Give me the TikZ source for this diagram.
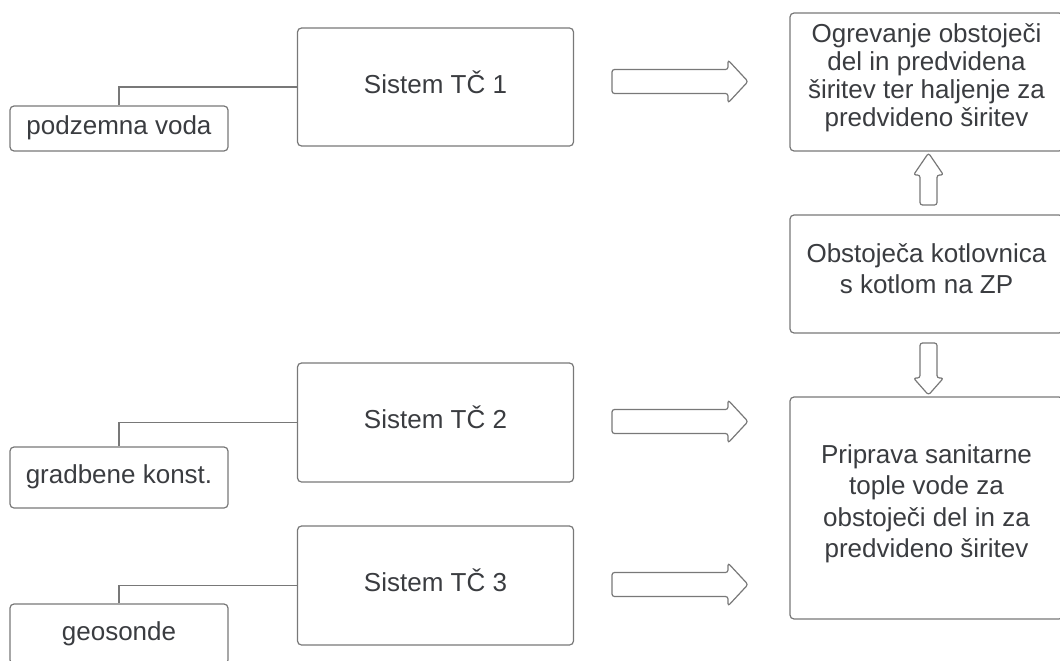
\documentclass[tikz,border=0pt]{standalone}
\usepackage{fontspec}
\setmainfont{Liberation Sans}
\usetikzlibrary{calc}
\definecolor{lc}{RGB}{120,120,120}
\definecolor{tc}{RGB}{58,60,64}
\newcommand\harrowat[1]{\draw[barrow] (#1) ++(0,-12.5) -- ++(116,0) -- ++(0,-9.5) -- ++(20,21.5) -- ++(-20,21.5) -- ++(0,-9.5) -- ++(-116,0) -- cycle;}
\begin{document}
\begin{tikzpicture}[x=1pt,y=-1pt,
  box/.style={draw=lc, line width=1.2pt, rounded corners=4pt, inner sep=0pt},
  txt/.style={text=tc, align=center, inner sep=0pt, font=\fontsize{26}{31.5}\selectfont},
  conn/.style={draw=lc, line width=1.2pt},
  barrow/.style={draw=lc, line width=1.2pt, rounded corners=2.5pt, line join=round}]
\useasboundingbox (0,0) rectangle (1060,661);

% heat pump systems
\node[box, minimum width=276pt, minimum height=118pt] (s1) at (435.5,87) {};
\node[box, minimum width=276pt, minimum height=119pt] (s2) at (435.5,422.5) {};
\node[box, minimum width=276pt, minimum height=119pt] (s3) at (435.5,585.5) {};
\node[txt] (s1t) at ($(s1)+(0,-5)$) {Sistem TČ 1};
\node[txt] (s2t) at ($(s2)+(0,-5)$) {Sistem TČ 2};
\node[txt] (s3t) at ($(s3)+(0,-5)$) {Sistem TČ 3};

% sources
\node[box, minimum width=218pt, minimum height=45pt] (pv) at (119,128.5) {};
\node[box, minimum width=218pt, minimum height=61pt] (gk) at (119,477.5) {};
\node[box, minimum width=218pt, minimum height=60pt] (gs) at (119,634) {};
\node[txt] (pvt) at ($(pv)+(0,-0.5)$) {podzemna voda};
\node[txt] (gkt) at ($(gk)+(0,-0.5)$) {gradbene konst.};
\node[txt] (gst) at ($(gs)+(0,0)$) {geosonde};

% right column
\node[box, minimum width=273pt, minimum height=138pt] (r1) at (926.5,82) {};
\node[box, minimum width=273pt, minimum height=118pt] (r2) at (926.5,274) {};
\node[box, minimum width=273pt, minimum height=222pt] (r3) at (926.5,508) {};
\node[txt, font=\fontsize{26}{28}\selectfont] (r1t) at ($(r1)+(0,-4)$) {Ogrevanje obstoječi\\del in predvidena\\širitev ter haljenje za\\predvideno širitev};
\node[txt, font=\fontsize{26}{31}\selectfont] (r2t) at ($(r2)+(0,-5)$) {Obstoječa kotlovnica\\s kotlom na ZP};
\node[txt, font=\fontsize{26}{31.5}\selectfont] (r3t) at ($(r3)+(0,-4)$) {Priprava sanitarne\\tople vode za\\obstoječi del in za\\predvideno širitev};

% connectors
\draw[conn] (pv.north) |- (s1.west);
\draw[conn] (gk.north) |- (s2.west);
\draw[conn] (gs.north) |- (s3.west);

% block arrows
\coordinate (h1) at (612,82);
\coordinate (h2) at (612,422);
\coordinate (h3) at (612,585);
\harrowat{h1}
\harrowat{h2}
\harrowat{h3}

\coordinate (u1) at (928.5,205);
\draw[barrow] (u1) ++(-8.5,0) -- ++(0,-30) -- ++(-6.5,0) -- ++(15,-22) -- ++(15,22) -- ++(-6.5,0) -- ++(0,30) -- cycle;
\coordinate (d1) at (928.5,343);
\draw[barrow] (d1) ++(-8.5,0) -- ++(0,35) -- ++(-6.5,0) -- ++(15,17) -- ++(15,-17) -- ++(-6.5,0) -- ++(0,-35) -- cycle;
\end{tikzpicture}
\end{document}
